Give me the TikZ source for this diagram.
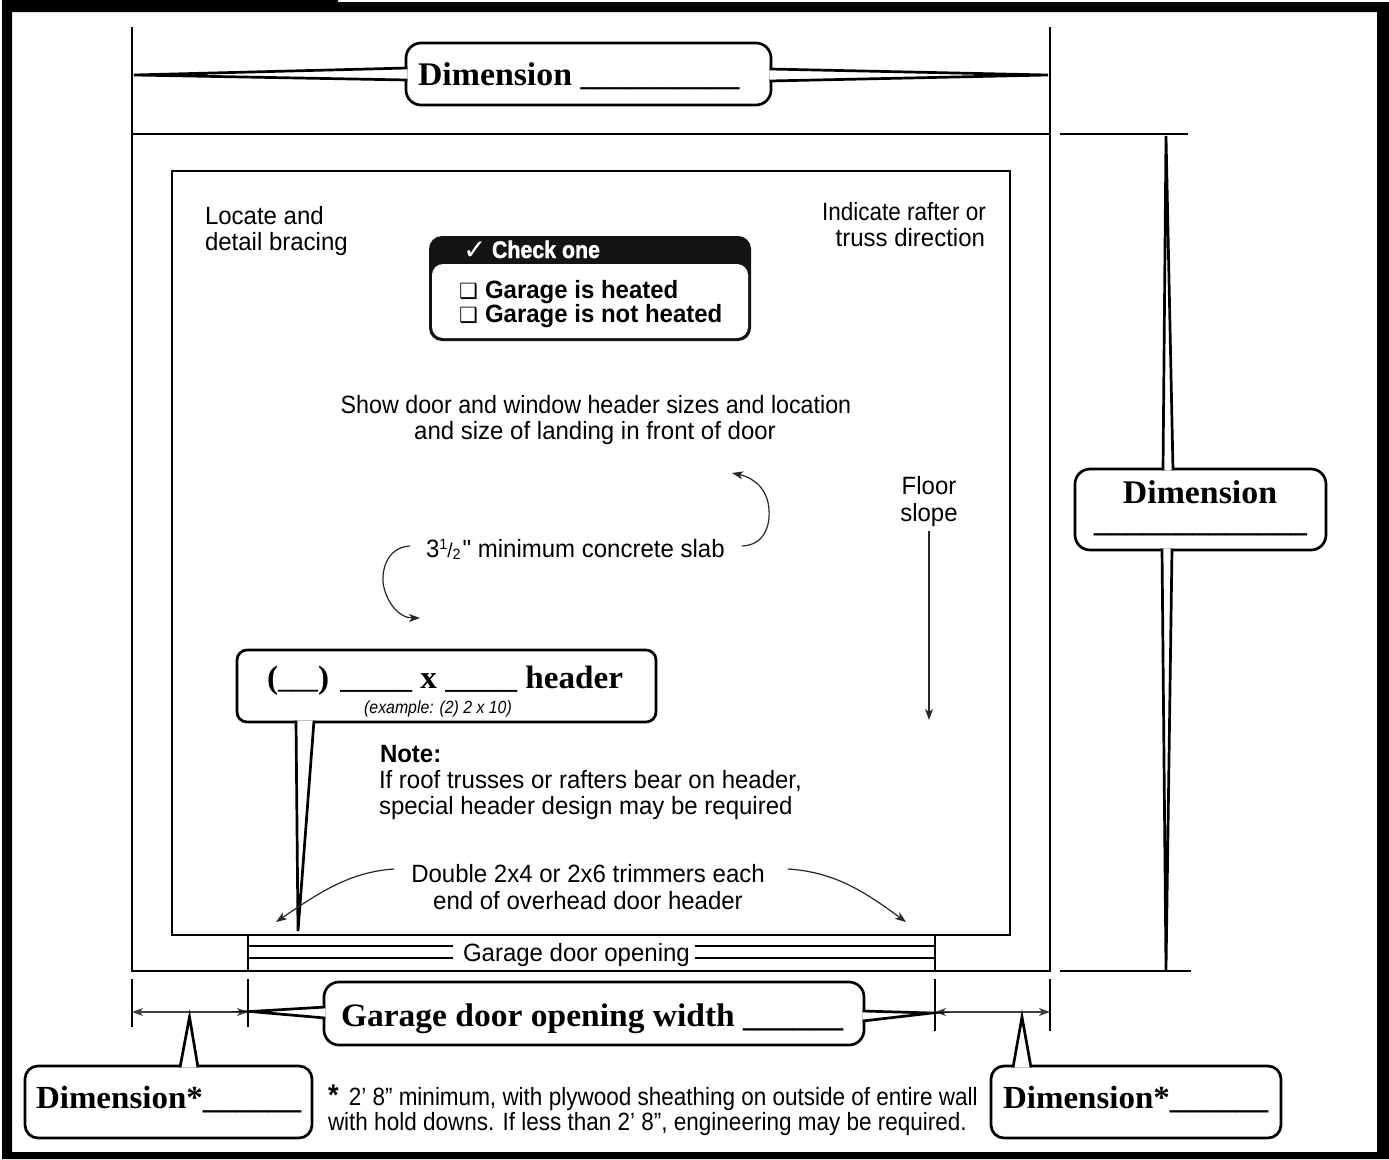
\documentclass[tikz,border=0pt]{standalone}
\usepackage{fontspec}
\setmainfont{Liberation Sans}[FakeStretch=0.96]
\newfontfamily\sfnine{Liberation Sans}[FakeStretch=0.93]
\newfontfamily\sfnar{Liberation Sans}[FakeStretch=0.90]
\newfontfamily\qf{Liberation Sans}[FakeStretch=0.96]
\newfontfamily\serifb{Liberation Serif Bold}[FakeStretch=1.025]
\newfontfamily\narrowb{Liberation Sans Bold}[FakeStretch=0.89,FakeBold=1.5]
\newfontfamily\sym{DejaVu Sans}
\usetikzlibrary{arrows.meta}
\newcommand{\fs}[1]{\fontsize{#1}{#1}\selectfont}
\tikzset{
  x=1pt,y=-1pt,
  lab/.style={inner sep=0pt,outer sep=0pt,font=\fs{25},text=black},
  ser/.style={inner sep=0pt,outer sep=0pt,font=\fs{33}\serifb},
  wall/.style={line width=2.7pt,line join=miter},
  thin dim/.style={line width=1.2pt,draw=black},
  cbox/.style={line width=2.7pt,draw=black,fill=white,rounded corners=15pt},
  ptr/.style={line width=2.7pt,draw=black,fill=white,line join=miter,miter limit=30},
  arr/.style={line width=1.2pt,draw=black!85,-{Stealth[length=11pt,width=8pt,inset=3pt]}},
  darr/.style={line width=1.2pt,draw=black!75,{Stealth[length=11pt,width=8pt,inset=3pt]}-{Stealth[length=11pt,width=8pt,inset=3pt]}},
}
\begin{document}
\begin{tikzpicture}
\useasboundingbox (0,0) rectangle (1389,1159);
% frame
\fill[black,even odd rule] (2,0)--(338,0)--(338,2)--(1389,2)--(1389,1159)--(2,1159)--cycle (12,12) rectangle (1377,1152);
% header callout
\draw[cbox,rounded corners=10pt] (237,650) rectangle (656,722);
\draw[ptr,miter limit=4] (296,720.6)--(298,931)--(314,720.6);
% walls
\draw[wall] (132,134) rectangle (1050,971);
\draw[wall] (172,171) rectangle (1010,935);
\draw[wall] (248,935)--(248,971);
\draw[wall] (935,935)--(935,971);
\draw[wall] (248,946)--(453,946);
\draw[wall] (248,958)--(453,958);
\draw[wall] (695,946)--(935,946);
\draw[wall] (695,958)--(935,958);
% witness lines
\draw[thin dim] (132,27)--(132,134);
\draw[thin dim] (1050,27)--(1050,134);
\draw[thin dim] (1060,134)--(1188,134);
\draw[thin dim] (1060,971)--(1191,971);
\draw[thin dim] (132,979)--(132,1027);
\draw[thin dim] (248,979)--(248,1027);
\draw[thin dim] (935,979)--(935,1031);
\draw[thin dim] (1050,979)--(1050,1031);
\draw[darr] (132,1012)--(248,1012);
\draw[darr] (935,1012)--(1050,1012);
% curved arrows
\draw[arr] (742,546) .. controls (765,545) and (770,525) .. (769,510) .. controls (768,490) and (755,478) .. (732,473);
\draw[arr] (410,546) .. controls (390,547) and (382,565) .. (383,582) .. controls (385,600) and (398,618) .. (420,618);
\draw[arr] (394,869) .. controls (350,872) and (320,892) .. (276,922);
\draw[arr] (788,869) .. controls (835,872) and (865,892) .. (906,922);
\draw[arr] (929,531)--(929,720);
% top callout
\draw[cbox] (406,43) rectangle (771,105);
\draw[ptr] (407.4,68)--(134,75)--(407.4,80);
\draw[ptr] (769.6,69)--(1048,75)--(769.6,81);
% right callout
\draw[cbox] (1075,469) rectangle (1326,550);
\draw[ptr] (1163,470.4)--(1166,136)--(1173,470.4);
\draw[ptr] (1162,548.6)--(1166,970)--(1172,548.6);
% door width callout
\draw[cbox] (324,982) rectangle (864,1045);
\draw[ptr] (325.4,1007)--(250,1011.5)--(325.4,1018);
\draw[ptr] (862.6,1011)--(932,1013)--(862.6,1021);
% dimension star callouts
\draw[cbox,rounded corners=13pt] (25,1066) rectangle (312,1138);
\draw[ptr] (180,1067.4)--(189.5,1017)--(198,1067.4);
\draw[cbox,rounded corners=13pt] (991,1066) rectangle (1281,1138);
\draw[ptr] (1013,1067.4)--(1022,1017)--(1031,1067.4);
% check box
\fill[black!92,rounded corners=13pt] (429,236) rectangle (751,341);
\fill[white,rounded corners=11pt] (432,264) rectangle (748,338);
% serif texts
\node[ser,anchor=base west] (topdim) at (418,85) {Dimension {\fs{31}\_\_\_\_\_\_\_\_\_\_}};
\node[ser,anchor=base] (rdim) at (1200,503) {Dimension};
\node[ser,anchor=base] (rdimline) at (1200.5,531) {\fs{32}\_\_\_\_\_\_\_\_\_\_\_\_\_};
\node[ser,anchor=base west,font=\fs{32.7}\serifb] (widthlab) at (341,1026) {Garage door opening width {\fs{32.5}\_\_\_\_\_\_}};
\node[ser,anchor=base west,font=\fs{32.2}\serifb] (ldimstar) at (36,1108) {Dimension*{\fs{32}\_\_\_\_\_\_}};
\node[ser,anchor=base west,font=\fs{32.2}\serifb] (rdimstar) at (1003,1108) {Dimension*{\fs{32}\_\_\_\_\_\_}};
\node[ser,anchor=base west,font=\fs{32.4}\serifb] (hdrlab) at (267,688) {({\fs{26}\_\_\_})\hspace{3pt} {\fs{28}\_\_\_\_\_} x {\fs{28}\_\_\_\_\_} header};
\node[lab,anchor=base,font=\fs{17.6}\sfnar\itshape] (example) at (438,713) {(example: (2) 2 x 10)};
% sans labels
\node[lab,anchor=base west] (loc1) at (205,224) {Locate and};
\node[lab,anchor=base west] (loc2) at (205,250) {detail bracing};
\node[lab,anchor=base east,font=\fs{25}\sfnar] (ind1) at (986,220) {Indicate rafter or};
\node[lab,anchor=base east] (ind2) at (985,246) {truss direction};
\node[lab,anchor=base,font=\fs{25}\sfnine] (show1) at (596,413) {Show door and window header sizes and location};
\node[lab,anchor=base] (show2) at (595,439) {and size of landing in front of door};
\node[lab,anchor=base] (floor1) at (929,494) {Floor};
\node[lab,anchor=base] (floor2) at (929,521) {slope};
\node[lab,anchor=base west] (slab) at (426,557) {3\raisebox{8pt}{\fs{15}1}\raisebox{0pt}{\fs{20}/}\raisebox{-2pt}{\fs{15}2}\hspace{2pt}{\qf "} minimum concrete slab};
\node[lab,anchor=base west,font=\fs{25}\bfseries] (note) at (380,762) {Note:};
\node[lab,anchor=base west] (note1) at (379,788) {If roof trusses or rafters bear on header,};
\node[lab,anchor=base west] (note2) at (379,814) {special header design may be required};
\node[lab,anchor=base] (dbl1) at (588,882) {Double 2x4 or 2x6 trimmers each};
\node[lab,anchor=base] (dbl2) at (588,909) {end of overhead door header};
\node[lab,anchor=base west] (gdo) at (463,961) {Garage door opening};
\node[lab,anchor=base west,font=\fs{25}\sfnar] (foot1) at (328,1105) {{\fs{30}\bfseries *}\hspace{4pt} 2’ 8” minimum, with plywood sheathing on outside of entire wall};
\node[lab,anchor=base west,font=\fs{25}\sfnar] (foot2) at (328,1130) {with hold downs. If less than 2’ 8”, engineering may be required.};
% check box text
\node[lab,anchor=base west,font=\fs{28}\sym\bfseries,text=white] (tick) at (463,259) {✓};
\node[lab,anchor=base west,font=\fs{24}\narrowb,text=white] (chk) at (492,258) {Check one};
\node[lab,anchor=base west,font=\fs{21}\sym] (box1) at (459,298) {❑};
\node[lab,anchor=base west,font=\fs{21}\sym] (box2) at (459,322) {❑};
\node[lab,anchor=base west,font=\fs{25}\bfseries] (heat1) at (485,298) {Garage is heated};
\node[lab,anchor=base west,font=\fs{25}\bfseries] (heat2) at (485,322) {Garage is not heated};
\end{tikzpicture}
\end{document}
